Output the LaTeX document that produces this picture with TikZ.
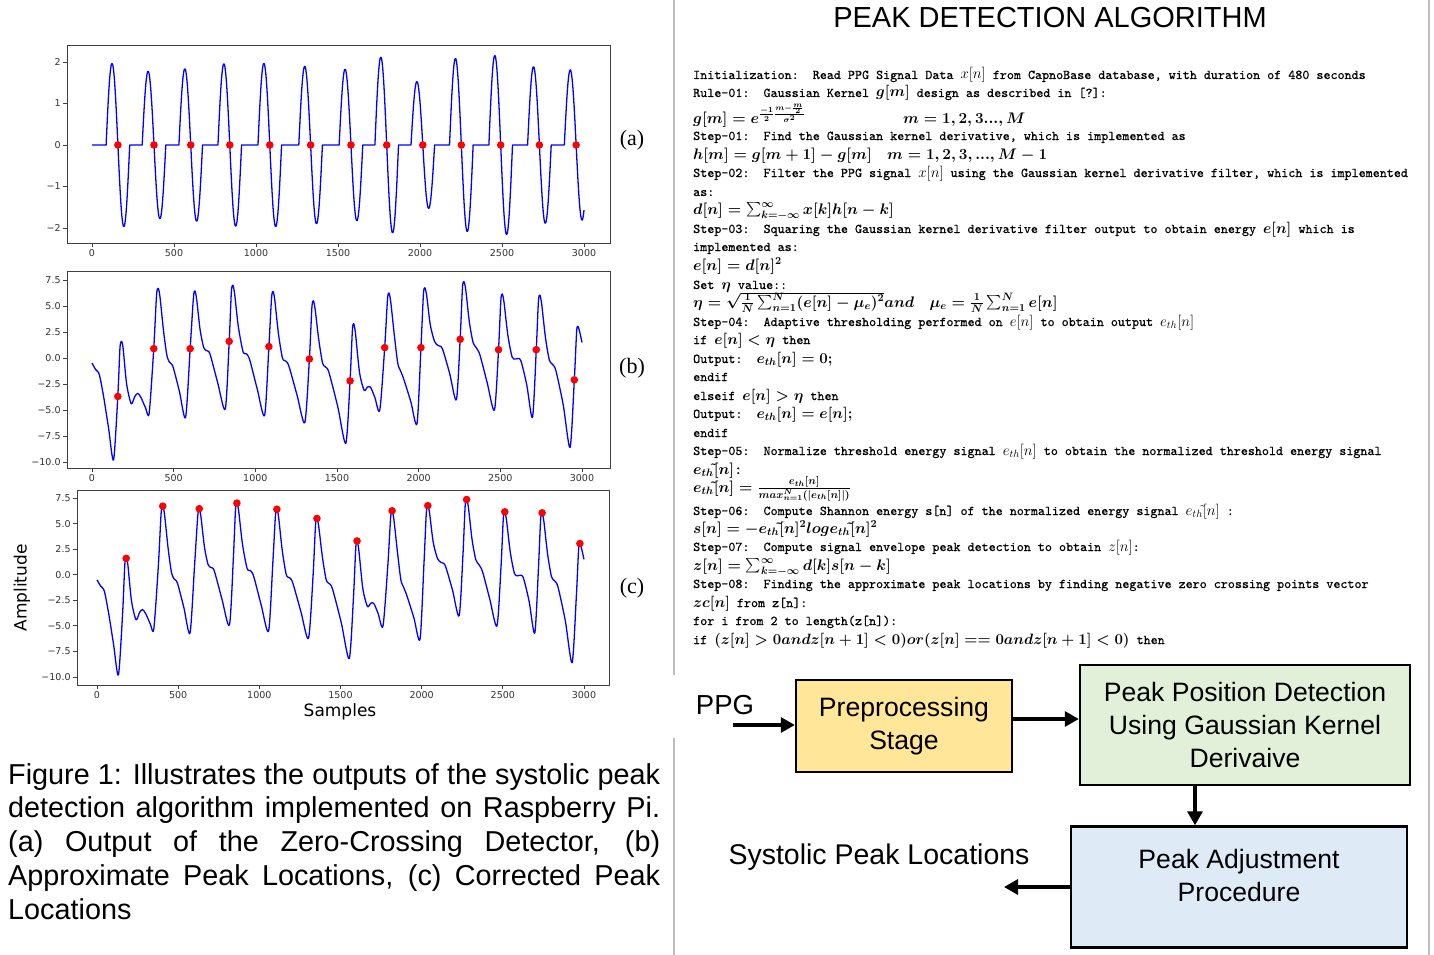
\documentclass[tikz,border=0pt]{standalone}
\usepackage{fix-cm}
\usepackage{amsmath}
\usepackage[no-math]{fontspec}
\setmainfont{Liberation Sans}
\setmonofont{lmmono10-regular.otf}[FakeBold=0.6]
\newfontfamily\plotfont{DejaVu Sans}
\newfontfamily\timesfont{Liberation Serif}
\usetikzlibrary{arrows.meta}

% inline math of the algorithm, a little larger than the typewriter text
\newcommand{\am}[1]{{\fontsize{15}{16}\selectfont$#1$}}

% one PPG record, samples against amplitude (used by panels b and c)
\newcommand{\ppgcurve}{plot[smooth, tension=0.45] coordinates {
  (0,-0.5) (22,-1.1) (45,-1.6) (72,-3.8) (102,-6.8) (132,-9.8) (158,-3.7) (171,0.9) (180,1.6) (190,1.0)
  (212,-2.5) (240,-4.4) (262,-3.7) (280,-3.4) (300,-3.8) (328,-4.8) (350,-5.3)
  (378,0.9) (395,6.0) (405,6.7) (416,5.9) (438,2.6) (458,0.3) (474,-0.4) (495,-0.8) (535,-3.2) (573,-5.7)
  (601,0.9) (621,5.8) (630,6.45) (641,5.6) (662,2.7) (684,1.0) (702,0.7) (722,0.4) (770,-2.4) (816,-4.9)
  (840,1.6) (853,6.3) (862,7.0) (873,6.2) (896,3.0) (925,0.6) (946,0.4) (966,-0.2) (1012,-3.0) (1057,-5.5)
  (1083,1.1) (1099,5.7) (1108,6.4) (1119,5.6) (1141,2.4) (1166,0.0) (1187,-0.3) (1206,-0.8) (1256,-3.6) (1303,-6.2)
  (1331,-0.1) (1346,4.8) (1355,5.5) (1366,4.7) (1388,1.8) (1412,-0.5) (1433,-0.9) (1451,-1.4) (1505,-4.7) (1554,-8.2)
  (1580,-2.2) (1594,2.6) (1602,3.3) (1613,2.4) (1638,-1.4) (1666,-3.1) (1686,-2.8) (1705,-2.8) (1732,-3.8) (1762,-5.0)
  (1792,1.0) (1809,5.6) (1818,6.25) (1829,5.4) (1851,2.2) (1872,-0.5) (1888,-1.2) (1908,-2.0) (1952,-4.2) (1990,-6.3)
  (2014,1.0) (2029,6.1) (2038,6.75) (2049,6.0) (2071,3.2) (2097,1.6) (2119,1.2) (2145,0.9) (2190,-1.5) (2231,-4.0)
  (2254,1.8) (2268,6.7) (2277,7.35) (2288,6.6) (2310,3.5) (2333,1.5) (2352,1.0) (2375,0.3) (2420,-2.4) (2464,-5.0)
  (2489,0.8) (2503,5.5) (2512,6.15) (2523,5.3) (2546,2.2) (2572,0.1) (2593,-0.1) (2624,-0.2) (2662,-2.6) (2697,-5.7)
  (2720,0.8) (2733,5.4) (2742,6.05) (2753,5.2) (2776,2.0) (2800,-0.2) (2819,-0.6) (2840,-1.2) (2885,-4.5) (2927,-8.6)
  (2953,-2.1) (2967,2.5) (2975,3.05) (2986,2.5) (3000,1.5)}}

\tikzset{
  sig/.style={sigblue, line width=1.3pt, line join=round},
  dot/.style={fill=dotred},
  frame/.style={draw=black!75, line width=0.9pt},
  tick/.style={black!75, line width=0.8pt},
  ticklab/.style={font=\plotfont\fontsize{9.5}{11}\selectfont, text=black!80, inner sep=2pt},
  panel/.style={font=\timesfont\fontsize{22}{24}\selectfont, inner sep=0pt},
  algo/.style={anchor=base west, inner sep=0pt, font=\ttfamily\fontsize{13.4}{16}\selectfont},
  algeq/.style={anchor=base west, inner sep=0pt, font=\ttfamily\fontsize{15.3}{17}\selectfont\boldmath},
  block/.style={draw, line width=2.4pt, align=center, font=\fontsize{26.6}{33}\selectfont},
  flow/.style={line width=3.2pt, -{Triangle[length=14pt, width=15pt]}},
  sep/.style={sepgray, line width=1.4pt}
}

\begin{document}
\begin{tikzpicture}[x=1pt, y=-1pt]

% Define colors
\definecolor{sigblue}{RGB}{0,0,255}
\definecolor{dotred}{RGB}{255,0,0}
\definecolor{prepyellow}{RGB}{255,230,153}
\definecolor{detgreen}{RGB}{226,240,217}
\definecolor{adjblue}{RGB}{222,235,247}
\definecolor{sepgray}{RGB}{190,190,190}

\useasboundingbox[fill=white] (0,0) rectangle (1434,955);

% Separators
\draw[sep] (674,0) -- (674,675);
\draw[sep] (674,738) -- (674,955);
\draw[sep] (1429,0) -- (1429,955);

% Panel (a): zero-crossing detector output
\draw[frame] (67,45) rectangle (610,243);
\foreach \v in {0,500,...,3000}
  \draw[tick] ({92+0.164*\v},243) -- ++(0,4) node[ticklab, below] (xa\v) {\v};
\foreach \v/\t [count=\i] in {2/2, 1/1, 0/0, -1/−1, -2/−2}
  \draw[tick] (67,{145-41.5*\v}) -- ++(-4,0) node[ticklab, left] (ya\i) {\t};
\begin{scope}[shift={(92,145)}, x=0.164pt, y=41.5pt]
  \draw[sig] (0,0)
    \foreach \c/\A [evaluate={\c as \lo using \c-72}, evaluate={\c as \hi using min(\c+72,3000)}] in
      {158/1.97, 378/1.78, 602/1.84, 840/1.96, 1084/1.97, 1333/1.9, 1579/1.83,
       1797/2.12, 2017/1.53, 2252/2.09, 2492/2.16, 2728/1.89, 2952/1.81}
      { -- (\lo,0) -- plot[domain=\lo:\hi, samples=31, smooth] (\x,{-\A*sin(180*(\x-\c)/72)}) };
  \foreach \c in {158,378,602,840,1084,1333,1579,1797,2017,2252,2492,2728,2952}
    \fill[dot] (\c,0) circle[radius=3.8pt];
\end{scope}
\node[panel] (pa) at (632,140) {(a)};

% Panel (b): approximate peak locations
\draw[frame] (67,271) rectangle (610,468);
\foreach \v in {0,500,...,3000}
  \draw[tick] ({92+0.16333*\v},468) -- ++(0,4) node[ticklab, below] (xb\v) {\v};
\foreach \v/\t [count=\i] in {7.5/7.5, 5/5.0, 2.5/2.5, 0/0.0, -2.5/−2.5, -5/−5.0, -7.5/−7.5, -10/−10.0}
  \draw[tick] (67,{358-10.4*\v}) -- ++(-4,0) node[ticklab, left] (yb\i) {\t};
\begin{scope}[shift={(92,358)}, x=0.16333pt, y=10.4pt]
  \draw[sig] \ppgcurve;
  \foreach \s/\v in {158/-3.7, 378/0.9, 601/0.9, 840/1.6, 1083/1.1, 1331/-0.1, 1580/-2.2,
                     1792/1.0, 2014/1.0, 2254/1.8, 2489/0.8, 2720/0.8, 2953/-2.1}
    \fill[dot] (\s,\v) circle[radius=3.8pt];
\end{scope}
\node[panel] (pb) at (632,368) {(b)};

% Panel (c): corrected peak locations
\draw[frame] (77,490) rectangle (609,685);
\foreach \v in {0,500,...,3000}
  \draw[tick] ({97+0.16233*\v},685) -- ++(0,4) node[ticklab, below] (xc\v) {\v};
\foreach \v/\t [count=\i] in {7.5/7.5, 5/5.0, 2.5/2.5, 0/0.0, -2.5/−2.5, -5/−5.0, -7.5/−7.5, -10/−10.0}
  \draw[tick] (77,{574.7-10.23*\v}) -- ++(-4,0) node[ticklab, left] (yc\i) {\t};
\begin{scope}[shift={(97,574.7)}, x=0.16233pt, y=10.23pt]
  \draw[sig] \ppgcurve;
  \foreach \s/\v in {180/1.6, 405/6.7, 630/6.45, 862/7.0, 1108/6.4, 1355/5.5, 1602/3.3,
                     1818/6.25, 2038/6.75, 2277/7.35, 2512/6.15, 2742/6.05, 2975/3.05}
    \fill[dot] (\s,\v) circle[radius=3.8pt];
\end{scope}
\node[panel] (pc) at (632,588) {(c)};
\node[font=\plotfont\fontsize{17}{19}\selectfont, inner sep=0pt] (samples) at (340,712) {Samples};
\node[font=\plotfont\fontsize{17}{19}\selectfont, inner sep=0pt, rotate=90] (amp) at (22,588) {Amplitude};

% Caption
\node[anchor=base west, inner sep=0pt, text width=652pt, align=justify,
      font=\fontsize{28.8}{33.75}\selectfont] (caption) at (8,784)
  {\sloppy Figure 1: Illustrates the outputs of the systolic peak\linebreak
   detection algorithm implemented on Raspberry Pi.\linebreak
   (a) Output of the Zero-Crossing Detector, (b)\linebreak
   Approximate Peak Locations, (c) Corrected Peak\linebreak
   Locations};

% Algorithm
\node[font=\fontsize{29}{34}\selectfont, inner sep=0pt] (title) at (1050,18) {PEAK DETECTION ALGORITHM};
\node[algo] (s01) at (693,79) {Initialization:\ \ Read PPG Signal Data \am{x[n]} from CapnoBase database, with duration of 480 seconds};
\node[algo] (s02) at (693,97) {Rule-01:\ \ Gaussian Kernel \am{\boldsymbol{g[m]}} design as described in [?]:};
\node[algeq] (s03) at (693,124) {$g[m]=e^{\frac{-1}{2}\frac{m-\frac{m}{2}}{\sigma^{2}}}$};
\node[algeq] (s03b) at (903,124) {$m=1,2,3...,M$};
\node[algo] (s04) at (693,140) {Step-01:\ \ Find the Gaussian kernel derivative, which is implemented as};
\node[algeq] (s05) at (693,159) {$h[m]=g[m+1]-g[m]\quad m=1,2,3,...,M-1$};
\node[algo] (s06) at (693,177) {Step-02:\ \ Filter the PPG signal \am{x[n]} using the Gaussian kernel derivative filter, which is implemented};
\node[algo] (s07) at (693,196) {as:};
\node[algeq] (s08) at (693,214) {$d[n]=\sum_{k=-\infty}^{\infty}x[k]h[n-k]$};
\node[algo] (s09) at (693,233) {Step-03:\ \ Squaring the Gaussian kernel derivative filter output to obtain energy \am{\boldsymbol{e[n]}} which is};
\node[algo] (s10) at (693,251) {implemented as:};
\node[algeq] (s11) at (693,270) {$e[n]=d[n]^{2}$};
\node[algo] (s12) at (693,289) {Set \am{\boldsymbol{\eta}} value::};
\node[algeq] (s13) at (693,307) {$\eta=\sqrt{\smash{\frac{1}{N}\sum_{n=1}^{N}(e[n]-\mu_{e})^{2}}\vphantom{b}}and\quad\mu_{e}=\frac{1}{N}\sum_{n=1}^{N}e[n]$};
\node[algo] (s14) at (693,326) {Step-04:\ \ Adaptive thresholding performed on \am{e[n]} to obtain output \am{e_{th}[n]}};
\node[algo] (s15) at (693,344) {if \am{\boldsymbol{e[n]<\eta}} then};
\node[algo] (s16) at (693,363) {Output:\ \ \am{\boldsymbol{e_{th}[n]=0;}}};
\node[algo] (s17) at (693,381) {endif};
\node[algo] (s18) at (693,400) {elseif \am{\boldsymbol{e[n]>\eta}} then};
\node[algo] (s19) at (693,418) {Output:\ \ \am{\boldsymbol{e_{th}[n]=e[n];}}};
\node[algo] (s20) at (693,437) {endif};
\node[algo] (s21) at (693,455) {Step-05:\ \ Normalize threshold energy signal \am{e_{th}[n]} to obtain the normalized threshold energy signal};
\node[algeq] (s22) at (693,474) {$e_{th}\tilde{}[n]$:};
\node[algeq] (s23) at (693,492) {$e_{th}\tilde{}[n]=\frac{e_{th}[n]}{max_{n=1}^{N}(|e_{th}[n]|)}$};
\node[algo] (s24) at (693,515) {Step-06:\ \ Compute Shannon energy s[n] of the normalized energy signal \am{e_{th}\tilde{}[n]} :};
\node[algeq] (s25) at (693,533) {$s[n]=-e_{th}\tilde{}[n]^{2}loge_{th}\tilde{}[n]^{2}$};
\node[algo] (s26) at (693,551) {Step-07:\ \ Compute signal envelope peak detection to obtain \am{z[n]}:};
\node[algeq] (s27) at (693,570) {$z[n]=\sum_{k=-\infty}^{\infty}d[k]s[n-k]$};
\node[algo] (s28) at (693,588) {Step-08:\ \ Finding the approximate peak locations by finding negative zero crossing points vector};
\node[algo] (s29) at (693,607) {\am{\boldsymbol{zc[n]}} from z[n]:};
\node[algo] (s30) at (693,625) {for i from 2 to length(z[n]):};
\node[algo] (s31) at (693,644) {if \am{\boldsymbol{(z[n]>0andz[n+1]<0)or(z[n]==0andz[n+1]<0)}} then};

% Block diagram
\node[font=\fontsize{27.5}{30}\selectfont, inner sep=0pt] (ppg) at (725,705) {PPG};
\coordinate (ppgin) at (733,725);
\node[block, fill=prepyellow, minimum width=216pt, minimum height=92pt] (prep) at (904,726) {Preprocessing\\Stage};
\node[block, fill=detgreen, minimum width=330pt, minimum height=120pt] (det) at (1245,725)
  {Peak Position Detection\\Using Gaussian Kernel\\Derivaive};
\node[block, fill=adjblue, minimum width=336pt, minimum height=121pt, text depth=24pt] (adj) at (1239,887)
  {Peak Adjustment\\Procedure};
\node[font=\fontsize{28.5}{30}\selectfont, inner sep=0pt] (sysl) at (879,857) {Systolic Peak Locations};
\coordinate (sysout) at (1004,887);

\draw[flow] (ppgin) -- (ppgin -| prep.west);
\draw[flow] ([yshift=7pt]prep.east) -- ([yshift=7pt]prep.east -| det.west);
\draw[flow] ([xshift=-50pt]det.south) -- ([xshift=-50pt]det.south |- adj.north);
\draw[flow] (adj.west) -- (sysout);

\end{tikzpicture}
\end{document}
